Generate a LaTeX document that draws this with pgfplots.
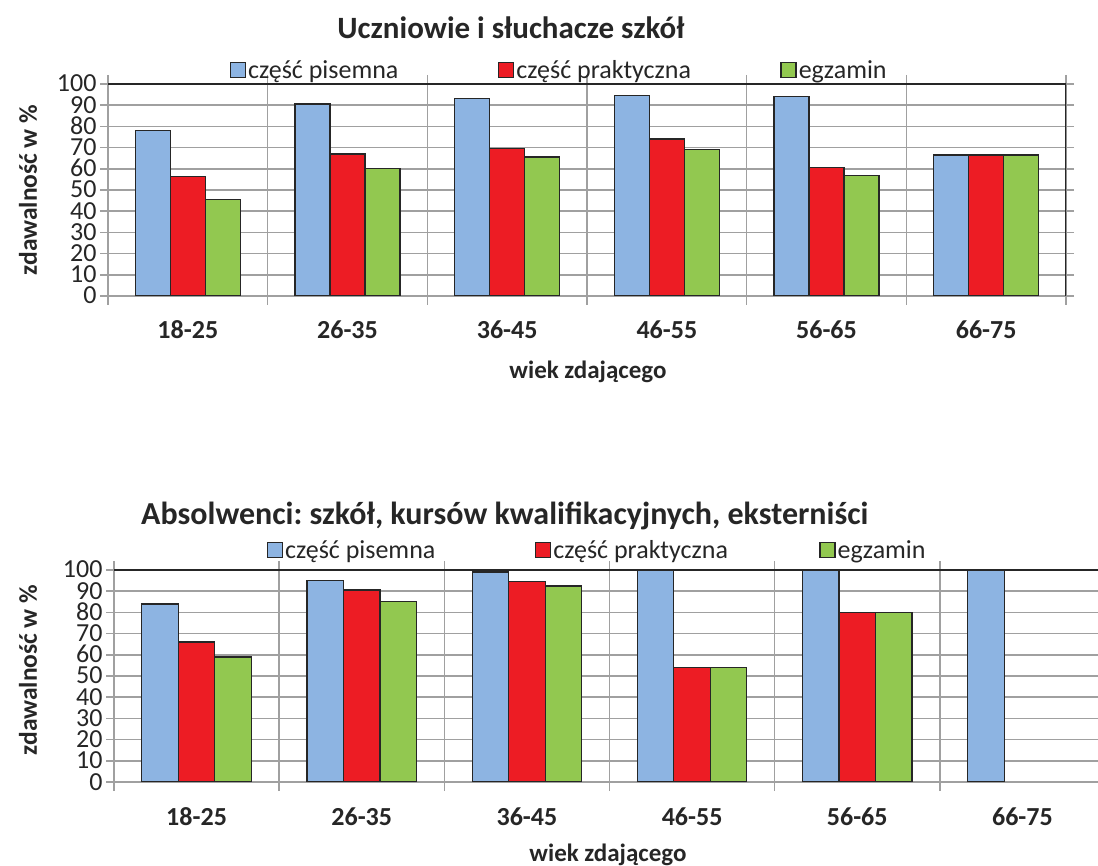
\documentclass[border=0pt]{standalone}
\usepackage{fontspec}
\setmainfont{Carlito}
\usepackage{pgfplots}
\pgfplotsset{compat=1.18}
\frenchspacing

\definecolor{pis}{RGB}{141,180,226}
\definecolor{prak}{RGB}{237,28,36}
\definecolor{egz}{RGB}{146,200,80}
\definecolor{siatka}{RGB}{160,160,160}

\pgfplotsset{
  zdaw/.style={
    scale only axis, height=212bp,
    ybar=0pt,
    ymin=0, ymax=100, ytick={0,10,...,100},
    xmin=-0.5, xmax=5.5, xtick={0,...,5},
    xticklabels={18-25,26-35,36-45,46-55,56-65,66-75},
    minor xtick={-0.5,0.5,...,5.5},
    xminorgrids, ymajorgrids,
    grid style={siatka, line width=1.5bp},
    minor grid style={siatka, line width=1.5bp},
    axis line style={siatka, line width=1.5bp},
    tick style={siatka, line width=1.5bp},
    major x tick style={draw=none},
    tick align=outside,
    major tick length=8bp, minor tick length=9bp,
    /pgf/number format/assume math mode=true,
    yticklabel style={font=\fontsize{26bp}{30bp}\selectfont, text=black!85,
      inner ysep=0pt, text height=16bp, text depth=0pt},
    xticklabel style={font=\bfseries\fontsize{26bp}{30bp}\selectfont, text=black!85,
      anchor=base, yshift=-35bp},
    every axis plot/.append style={draw=black!85, line width=1.3bp},
    legend columns=3,
    legend image code/.code={\draw[#1, line width=1.3bp] (0bp,-7.5bp) rectangle (15bp,7.5bp);},
    legend style={draw=none, fill=none, inner sep=0pt, anchor=west,
      font=\fontsize{26bp}{30bp}\selectfont, text=black!85,
      nodes={inner sep=2bp, anchor=west}},
  }
}

\begin{document}
\begin{tikzpicture}
\useasboundingbox (0,0) rectangle (1098bp,866bp);

% gorny wykres
\node[font=\bfseries\fontsize{31bp}{36bp}\selectfont, text=black!85] at (511bp,838bp) {Uczniowie i słuchacze szkół};
\begin{axis}[zdaw, width=958bp, bar width=35bp,
    at={(108bp,570bp)}, anchor=south west,
    legend style={at={(axis description cs:0.127,1.066)}}]
  \addplot[fill=pis] coordinates {(0,78) (1,90.5) (2,93) (3,94.5) (4,94) (5,66.5)};
  \addplot[fill=prak] coordinates {(0,56.5) (1,67) (2,69.5) (3,74) (4,60.5) (5,66.5)};
  \addplot[fill=egz] coordinates {(0,45.5) (1,60) (2,65.5) (3,69) (4,57) (5,66.5)};
  \legend{\makebox[248bp][l]{część pisemna},\makebox[262bp][l]{część praktyczna},egzamin}
  \draw[black!85, line width=1.8bp] (rel axis cs:0,1) -- (rel axis cs:1,1) -- (rel axis cs:1,0);
\end{axis}
\node[font=\bfseries\fontsize{25bp}{30bp}\selectfont, text=black!85] at (588bp,494bp) {wiek zdającego};
\node[font=\bfseries\fontsize{25.5bp}{30bp}\selectfont, text=black!85, rotate=90] at (28bp,676bp) {zdawalność w \%};

% dolny wykres
\node[font=\bfseries\fontsize{32bp}{36bp}\selectfont, text=black!85, anchor=west, inner sep=0pt] at (141bp,350bp) {Absolwenci: szkół, kursów kwalifikacyjnych, eksterniści};
\begin{axis}[zdaw, width=991bp, bar width=36.5bp,
    at={(114bp,84bp)}, anchor=south west,
    legend style={at={(axis description cs:0.154,1.094)}}]
  \addplot[fill=pis] coordinates {(0,84) (1,95) (2,99) (3,100) (4,100) (5,100)};
  \addplot[fill=prak] coordinates {(0,66) (1,90.5) (2,94.5) (3,54) (4,80)};
  \addplot[fill=egz] coordinates {(0,59) (1,85) (2,92.5) (3,54) (4,80)};
  \legend{\makebox[248bp][l]{część pisemna},\makebox[264bp][l]{część praktyczna},egzamin}
  \draw[black!85, line width=1.8bp] (rel axis cs:0,1) -- (rel axis cs:1,1) -- (rel axis cs:1,0);
\end{axis}
\node[font=\bfseries\fontsize{25bp}{30bp}\selectfont, text=black!85] at (608bp,11bp) {wiek zdającego};
\node[font=\bfseries\fontsize{25.5bp}{30bp}\selectfont, text=black!85, rotate=90] at (28bp,196bp) {zdawalność w \%};
\end{tikzpicture}
\end{document}
